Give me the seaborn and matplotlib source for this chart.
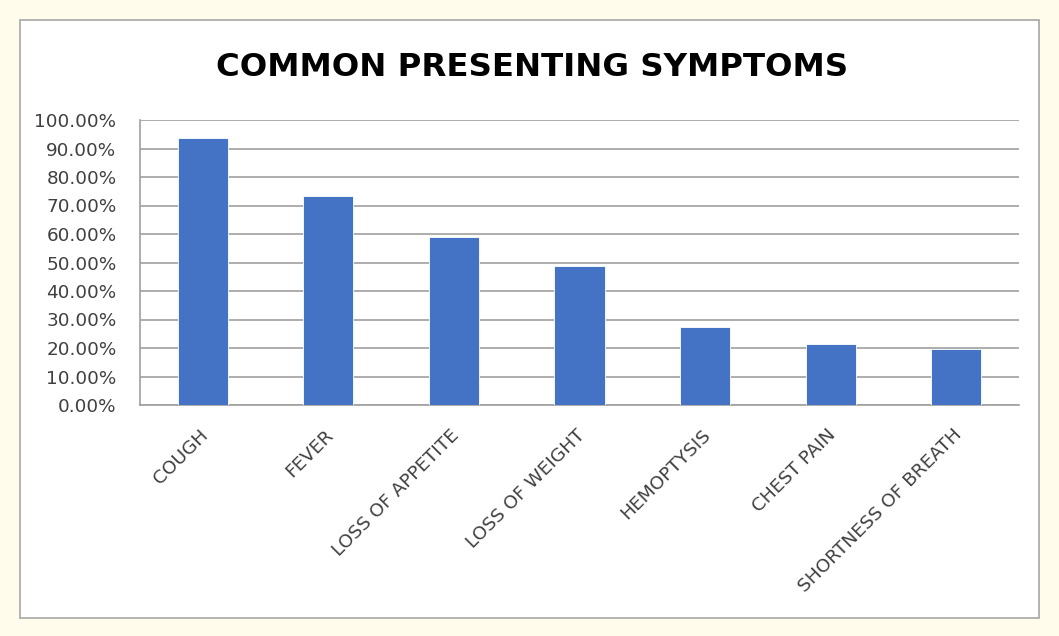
import matplotlib
matplotlib.use("Agg")
import matplotlib.pyplot as plt
from matplotlib.patches import Rectangle
from matplotlib.ticker import PercentFormatter, FixedLocator
import seaborn as sns
import pandas as pd

symptoms = ["COUGH", "FEVER", "LOSS OF APPETITE", "LOSS OF WEIGHT",
            "HEMOPTYSIS", "CHEST PAIN", "SHORTNESS OF BREATH"]
percent = [93.8, 73.3, 58.8, 48.9, 27.5, 21.3, 19.6]
y_ticks = [0, 10, 20, 30, 40, 50, 60, 70, 80, 90, 100]

sns.set_style("white")
plt.rcParams["font.family"] = ["DejaVu Sans"]

fig = plt.figure(figsize=(10.59, 6.36), dpi=100)
fig.patch.set_facecolor("#FFFCEB")

# white chart area with a grey frame, kept behind the axes
frame = Rectangle((20 / 1059, 1 - 618 / 636), 1019 / 1059, 598 / 636,
                  transform=fig.transFigure, facecolor="white",
                  edgecolor="#A6A6A6", linewidth=1.2, zorder=-10)
fig.patches.append(frame)

ax = fig.add_axes([140 / 1059, 1 - 405 / 636, 879 / 1059, 285 / 636])
ax.set_zorder(1)
ax.set_facecolor("white")

df = pd.DataFrame({"symptom": symptoms, "percent": percent})
sns.barplot(data=df, x="symptom", y="percent", color="#4472C4",
            width=0.4, saturation=1, edgecolor="white", linewidth=0.6,
            ax=ax, zorder=3)

ax.set_ylim(0, 100)
ax.set_xlim(-0.5, len(symptoms) - 0.5)
ax.set_yticks(y_ticks)
ax.yaxis.set_major_formatter(PercentFormatter(decimals=2))
ax.grid(axis="y", color="#A0A0A0", linewidth=1.2, zorder=0)
ax.set_axisbelow(True)

# category labels, plus boundary ticks between categories
ax.set_xticks([i - 0.03 for i in range(len(symptoms))])
ax.set_xticklabels(symptoms, rotation=45, ha="right", va="top",
                   rotation_mode="anchor", fontsize=13.3, color="#404040")
ax.tick_params(axis="x", length=0, pad=15)
ax.xaxis.set_minor_locator(FixedLocator([i - 0.5 for i in range(len(symptoms) + 1)]))
ax.tick_params(axis="x", which="minor", length=5, width=1.2, color="#A0A0A0",
               direction="out")
ax.tick_params(axis="y", length=5, width=1.2, color="#A0A0A0", direction="out",
               labelsize=13.2, labelcolor="#404040", pad=12)

for side in ["top", "right"]:
    ax.spines[side].set_visible(False)
for side in ["left", "bottom"]:
    ax.spines[side].set_color("#A0A0A0")
    ax.spines[side].set_linewidth(1.2)

ax.set_xlabel("")
ax.set_ylabel("")

fig.text(532 / 1059, 1 - 67 / 636, "COMMON PRESENTING SYMPTOMS",
         ha="center", va="center", fontsize=23.3, fontweight="bold", color="black")

fig.savefig("out.png", dpi=100, facecolor=fig.get_facecolor())
